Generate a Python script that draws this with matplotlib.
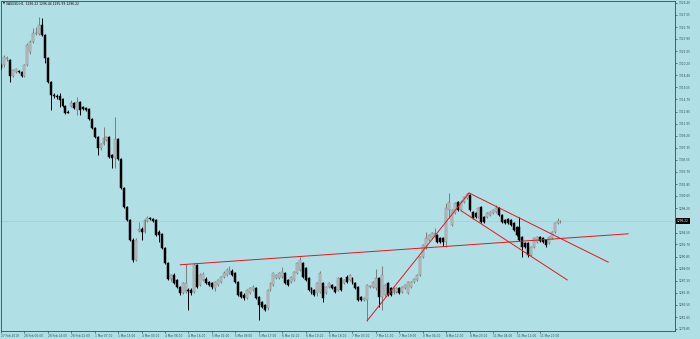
import matplotlib.pyplot as plt
import numpy as np

# colores del grafico
fondo = '#b0e0e6'
ejes = '#2f4f4f'
alcista = '#c4c4c4'
borde_alcista = '#7c7c7c'
bajista = '#000000'
rojo = '#e8141c'

# velas H1 XAUUSD (apertura, maximo, minimo, cierre)
aperturas = [1319.9, 1319.9, 1320.9, 1320.7, 1318.3, 1318.9, 1319.0, 1318.9, 1318.3, 1319.9,
             1321.9, 1323.4, 1324.6, 1324.6, 1326.0, 1324.5, 1321.0, 1317.4, 1315.4, 1315.2,
             1315.2, 1314.8, 1313.7, 1312.8, 1313.7, 1314.2, 1313.1, 1314.3, 1313.6, 1313.4,
             1313.3, 1311.7, 1310.4, 1309.0, 1307.3, 1307.9, 1308.6, 1309.0, 1306.3, 1305.8,
             1308.7, 1305.7, 1301.3, 1298.4, 1296.4, 1293.4, 1290.3, 1294.7, 1295.0, 1294.6,
             1296.2, 1296.7, 1296.5, 1296.4, 1294.6, 1294.3, 1292.1, 1289.9, 1287.4, 1288.0,
             1287.3, 1286.2, 1285.3, 1285.5, 1285.8, 1285.8, 1285.5, 1289.6, 1286.5, 1287.3,
             1287.4, 1287.0, 1286.8, 1286.1, 1286.5, 1287.0, 1287.7, 1288.0, 1288.4, 1288.7,
             1288.4, 1287.0, 1285.5, 1285.0, 1284.6, 1285.3, 1285.8, 1286.1, 1284.7, 1284.0,
             1283.5, 1283.0, 1285.8, 1286.5, 1287.6, 1287.6, 1287.7, 1288.3, 1287.3, 1287.0,
             1287.3, 1288.3, 1288.8, 1289.9, 1289.1, 1287.6, 1286.1, 1285.8, 1285.3, 1285.5,
             1286.8, 1285.3, 1286.2, 1286.5, 1286.2, 1285.8, 1287.6, 1286.8, 1287.7, 1287.3,
             1287.6, 1286.8, 1286.2, 1284.7, 1284.2, 1284.2, 1286.2, 1286.2, 1286.1, 1287.6,
             1284.7, 1285.0, 1286.8, 1286.1, 1285.3, 1285.5, 1286.1, 1285.5, 1286.1, 1285.3,
             1286.2, 1287.0, 1287.3, 1288.0, 1290.8, 1292.1, 1293.4, 1293.7, 1293.8, 1294.1,
             1293.7, 1293.7, 1293.0, 1297.9, 1295.6, 1297.5, 1299.1, 1297.9, 1299.1, 1299.7,
             1300.2, 1297.6, 1297.5, 1296.9, 1298.4, 1296.9, 1296.9, 1297.2, 1297.5, 1297.6,
             1298.2, 1297.2, 1296.4, 1296.5, 1296.4, 1295.9, 1295.3, 1295.3, 1293.8, 1292.9,
             1292.9, 1291.1, 1292.3, 1293.0, 1293.8, 1293.7, 1293.4, 1292.9, 1293.7, 1294.6,
             1295.9, 1296.22]
maximos = [1320.2, 1321.5, 1321.3, 1320.9, 1319.3, 1319.5, 1319.2, 1319.0, 1320.1, 1323.3,
           1323.7, 1325.6, 1325.7, 1327.2, 1327.1, 1324.6, 1321.2, 1317.5, 1315.7, 1315.5,
           1315.7, 1314.9, 1313.9, 1313.1, 1314.6, 1314.3, 1315.1, 1314.5, 1313.7, 1313.6,
           1313.4, 1311.9, 1310.5, 1309.2, 1308.1, 1310.5, 1309.2, 1309.2, 1306.4, 1312.0,
           1308.9, 1305.8, 1301.4, 1298.5, 1296.5, 1293.7, 1293.7, 1296.1, 1295.3, 1296.5,
           1297.0, 1296.8, 1296.7, 1296.5, 1294.9, 1294.4, 1292.3, 1290.0, 1288.2, 1288.3,
           1287.4, 1286.4, 1287.0, 1289.7, 1286.1, 1286.1, 1289.9, 1289.7, 1288.3, 1288.5,
           1287.7, 1287.1, 1287.0, 1287.1, 1287.4, 1287.9, 1288.7, 1289.1, 1289.4, 1289.0,
           1288.5, 1287.1, 1285.6, 1285.3, 1285.9, 1286.2, 1286.5, 1286.2, 1284.9, 1284.1,
           1283.6, 1285.9, 1287.0, 1288.5, 1288.2, 1288.5, 1289.3, 1288.5, 1287.4, 1287.9,
           1288.7, 1290.0, 1290.8, 1290.0, 1289.3, 1287.7, 1286.2, 1285.9, 1287.0, 1288.7,
           1287.0, 1286.4, 1287.0, 1286.7, 1286.4, 1287.7, 1287.7, 1287.4, 1288.0, 1288.2,
           1287.7, 1287.0, 1286.4, 1284.9, 1284.7, 1286.7, 1286.5, 1287.1, 1288.9, 1287.7,
           1289.4, 1286.7, 1287.0, 1286.2, 1286.2, 1286.2, 1286.2, 1286.4, 1286.7, 1287.1,
           1287.1, 1287.6, 1288.2, 1290.9, 1292.7, 1294.6, 1294.3, 1294.6, 1295.2, 1294.3,
           1293.8, 1293.8, 1299.0, 1300.5, 1298.1, 1299.1, 1299.3, 1299.4, 1300.0, 1300.5,
           1300.3, 1297.8, 1297.6, 1298.4, 1298.5, 1297.0, 1297.6, 1297.8, 1298.1, 1298.7,
           1298.4, 1297.3, 1296.5, 1296.7, 1296.5, 1296.1, 1295.5, 1296.9, 1294.0, 1293.0,
           1293.0, 1292.4, 1293.8, 1293.9, 1293.9, 1293.8, 1293.5, 1293.9, 1294.7, 1296.1,
           1296.7, 1296.44]
minimos = [1319.2, 1319.6, 1320.5, 1317.4, 1318.1, 1318.7, 1318.7, 1318.1, 1318.1, 1319.8,
           1321.6, 1323.3, 1324.5, 1324.5, 1324.3, 1320.2, 1317.2, 1313.1, 1314.9, 1314.8,
           1313.6, 1313.6, 1312.5, 1312.6, 1313.6, 1313.3, 1312.3, 1312.3, 1313.1, 1312.9,
           1311.6, 1310.2, 1308.9, 1306.3, 1307.0, 1307.8, 1308.4, 1305.8, 1304.3, 1304.3,
           1305.5, 1301.1, 1298.2, 1296.2, 1293.2, 1290.0, 1290.2, 1294.6, 1293.4, 1294.4,
           1296.1, 1296.4, 1296.1, 1294.0, 1293.1, 1292.0, 1289.7, 1287.3, 1287.1, 1286.7,
           1286.1, 1285.0, 1285.2, 1285.3, 1282.7, 1285.0, 1285.3, 1286.1, 1286.4, 1287.1,
           1286.7, 1286.4, 1285.9, 1285.6, 1286.4, 1286.8, 1287.6, 1287.9, 1288.2, 1287.9,
           1286.8, 1284.8, 1284.6, 1284.2, 1284.4, 1285.2, 1285.6, 1284.4, 1281.2, 1283.0,
           1282.6, 1282.7, 1285.6, 1286.4, 1287.4, 1287.4, 1287.6, 1286.7, 1286.4, 1286.8,
           1287.1, 1288.2, 1288.7, 1287.6, 1287.1, 1285.6, 1285.2, 1284.8, 1284.8, 1285.3,
           1283.9, 1285.2, 1286.1, 1285.9, 1285.3, 1285.6, 1285.6, 1286.7, 1286.8, 1287.1,
           1286.7, 1285.9, 1284.1, 1284.1, 1284.1, 1281.1, 1286.1, 1286.1, 1285.8, 1283.2,
           1282.7, 1284.7, 1284.8, 1284.8, 1285.2, 1285.3, 1285.2, 1285.3, 1285.9, 1285.2,
           1286.1, 1286.8, 1287.1, 1287.9, 1290.6, 1292.0, 1293.2, 1293.5, 1293.7, 1292.9,
           1292.9, 1292.5, 1292.3, 1296.7, 1295.5, 1297.3, 1297.8, 1297.8, 1299.0, 1299.6,
           1297.8, 1296.6, 1296.7, 1296.7, 1295.9, 1295.9, 1296.7, 1297.0, 1297.3, 1297.5,
           1297.0, 1295.9, 1295.8, 1295.8, 1295.5, 1294.7, 1294.0, 1293.2, 1290.8, 1292.1,
           1290.8, 1290.9, 1292.1, 1292.9, 1293.0, 1292.9, 1292.3, 1292.7, 1293.5, 1294.4,
           1295.8, 1295.99]
cierres = [1319.5, 1321.2, 1321.0, 1318.3, 1319.2, 1319.3, 1318.9, 1318.3, 1319.9, 1323.0,
           1323.4, 1324.8, 1324.8, 1326.0, 1324.5, 1321.0, 1317.4, 1315.4, 1315.2, 1315.1,
           1314.6, 1313.7, 1312.7, 1312.7, 1314.2, 1313.4, 1314.3, 1313.1, 1313.3, 1313.1,
           1311.7, 1310.4, 1309.0, 1307.3, 1307.9, 1308.9, 1309.0, 1306.0, 1305.8, 1308.7,
           1305.7, 1301.3, 1298.4, 1296.4, 1293.4, 1290.3, 1293.4, 1295.0, 1294.6, 1296.4,
           1296.7, 1296.5, 1296.2, 1294.1, 1294.1, 1292.1, 1289.9, 1287.4, 1288.0, 1286.8,
           1286.2, 1285.3, 1286.8, 1286.8, 1285.6, 1285.3, 1289.6, 1286.2, 1288.0, 1288.2,
           1286.8, 1286.5, 1286.2, 1287.0, 1287.3, 1287.7, 1288.3, 1288.8, 1288.8, 1288.0,
           1287.0, 1285.0, 1284.7, 1284.6, 1285.8, 1286.1, 1286.2, 1284.6, 1283.5, 1283.2,
           1282.7, 1285.8, 1286.8, 1288.3, 1288.0, 1288.3, 1288.5, 1286.8, 1286.5, 1287.7,
           1288.5, 1289.9, 1290.3, 1287.7, 1287.3, 1285.8, 1285.3, 1285.0, 1286.8, 1288.3,
           1284.6, 1286.2, 1286.8, 1286.1, 1285.5, 1287.6, 1285.8, 1287.3, 1287.0, 1288.0,
           1286.8, 1286.1, 1284.2, 1284.2, 1284.6, 1286.5, 1286.4, 1287.0, 1287.6, 1284.7,
           1288.0, 1286.5, 1285.0, 1285.0, 1286.1, 1286.1, 1285.3, 1286.2, 1286.5, 1287.0,
           1287.0, 1287.4, 1288.0, 1290.8, 1292.6, 1293.7, 1294.1, 1294.4, 1294.4, 1293.0,
           1293.0, 1293.0, 1298.2, 1299.1, 1297.9, 1299.0, 1297.9, 1299.1, 1299.9, 1300.3,
           1297.9, 1296.7, 1296.9, 1298.2, 1296.1, 1296.1, 1297.5, 1297.6, 1297.9, 1298.2,
           1297.2, 1296.1, 1295.9, 1295.9, 1295.6, 1294.9, 1294.1, 1293.4, 1292.3, 1292.3,
           1291.1, 1292.3, 1293.7, 1293.8, 1293.2, 1293.0, 1292.6, 1293.8, 1294.6, 1295.9,
           1296.2, 1296.22]

# lineas de tendencia dibujadas (vela inicial, precio inicial, vela final, precio final)
lineas = [(61.2, 1289.6, 214.1, 1294.3),
          (125.0, 1281.1, 159.8, 1300.5),
          (159.8, 1300.5, 207.3, 1290.0),
          (157.1, 1297.8, 193.3, 1287.3)]

precio_actual = 1296.22
cabecera = 'XAUUSD,H1  1296.22 1296.44 1295.99 1296.22'

precios_eje = [1329.40, 1327.55, 1325.70, 1323.90, 1322.05, 1320.20, 1318.40, 1316.55,
               1314.70, 1312.85, 1311.05, 1309.20, 1307.35, 1305.55, 1303.70, 1301.85,
               1300.05, 1298.20, 1296.35, 1294.50, 1292.70, 1290.85, 1289.00, 1287.20,
               1285.35, 1283.50, 1281.65, 1279.85]
horas_eje = ['27 Feb 2019', '28 Feb 06:00', '28 Feb 14:00', '28 Feb 22:00', '1 Mar 07:00',
             '1 Mar 15:00', '4 Mar 00:00', '4 Mar 08:00', '4 Mar 16:00', '5 Mar 01:00',
             '5 Mar 09:00', '5 Mar 17:00', '6 Mar 02:00', '6 Mar 10:00', '6 Mar 18:00',
             '7 Mar 03:00', '7 Mar 11:00', '7 Mar 19:00', '8 Mar 04:00', '8 Mar 12:00',
             '8 Mar 20:00', '11 Mar 04:00', '11 Mar 12:00', '11 Mar 20:00']

o = np.array(aperturas)
h = np.array(maximos)
l = np.array(minimos)
c = np.array(cierres)
x = np.arange(len(c))
sube = c >= o

fig = plt.figure(figsize=(7, 3.39), dpi=100, facecolor=fondo)
ax = fig.add_axes([1 / 700, 8 / 339, 674 / 700, 330 / 339], facecolor=fondo)

# linea del precio actual
ax.axhline(precio_actual, color='#a6c9ce', lw=0.45, zorder=1)

# mechas y cuerpos
ax.vlines(x[sube], l[sube], h[sube], color=borde_alcista, lw=0.7, zorder=2)
ax.vlines(x[~sube], l[~sube], h[~sube], color=bajista, lw=0.7, zorder=2)
alto = np.maximum(np.abs(c - o), 0.07)
base = np.minimum(o, c)
ax.bar(x[sube], alto[sube], bottom=base[sube], width=0.66, color=alcista,
       edgecolor=borde_alcista, linewidth=0.35, zorder=3)
ax.bar(x[~sube], alto[~sube], bottom=base[~sube], width=0.66, color=bajista,
       edgecolor=bajista, linewidth=0.35, zorder=3)

for x0, y0, x1, y1 in lineas:
    ax.plot([x0, x1], [y0, y1], color=rojo, lw=0.7, zorder=4)

ax.set_xlim(0.1, 230.1)
ax.set_ylim(1279.54, 1329.66)

# eje de precios a la derecha (la marca del precio actual tapa la mas cercana)
ax.yaxis.tick_right()
ax.set_yticks(precios_eje)
ax.set_yticklabels(['' if abs(p - precio_actual) < 0.5 else '%.2f' % p for p in precios_eje])
ax.tick_params(axis='y', direction='out', length=1.6, width=0.5, pad=1.2,
               labelsize=2.1, colors=ejes)

# eje de tiempo
ax.set_xticks(np.arange(len(horas_eje)) * 8)
ax.set_xticklabels(horas_eje, ha='left')
ax.tick_params(axis='x', direction='out', length=1.6, width=0.5, pad=0.8,
               labelsize=2.1, colors=ejes)

for s in ax.spines.values():
    s.set_color(ejes)
    s.set_linewidth(0.6)

# etiqueta del precio actual en el eje
ax.text(1.0025, precio_actual, '%.2f' % precio_actual, transform=ax.get_yaxis_transform(),
        ha='left', va='center', fontsize=2.1, color='white', zorder=6, clip_on=False,
        bbox=dict(boxstyle='square,pad=0.35', fc='black', ec='black', lw=0))

ax.text(0.003, 0.997, '\u25bc', transform=ax.transAxes, ha='left', va='top',
        fontsize=1.8, color='black')
ax.text(0.0075, 0.997, cabecera, transform=ax.transAxes, ha='left', va='top',
        fontsize=2.2, color='black')

fig.savefig('out.png', dpi=100, facecolor=fondo)
